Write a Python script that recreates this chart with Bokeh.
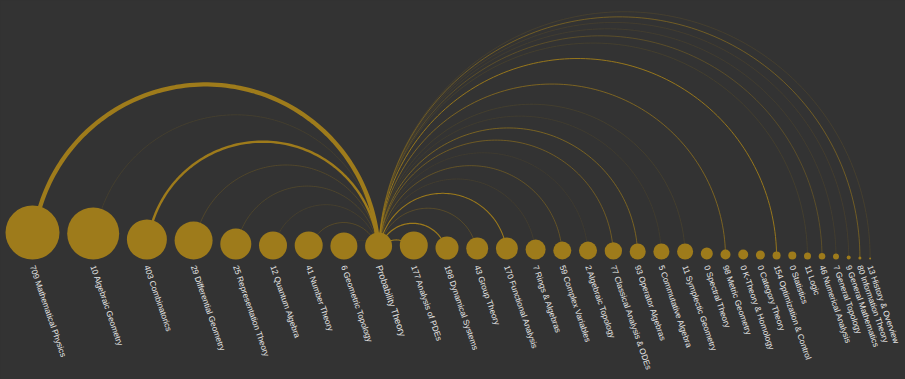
import numpy as np
from bokeh.plotting import figure
from bokeh.models import Range1d, ColumnDataSource
from bokeh.embed import file_html
from bokeh.resources import INLINE
from bokeh.core.properties import value

# ---------------- data ----------------
categories = [
    "Mathematical Physics", "Algebraic Geometry", "Combinatorics", "Differential Geometry",
    "Representation Theory", "Quantum Algebra", "Number Theory", "Geometric Topology",
    "Probability Theory", "Analysis of PDEs", "Dynamical Systems", "Group Theory",
    "Functional Analysis", "Rings & Algebras", "Complex Variables", "Algebraic Topology",
    "Classical Analysis & ODEs", "Operator Algebras", "Commutative Algebra", "Symplectic Geometry",
    "Spectral Theory", "Metric Geometry", "K-Theory & Homology", "Category Theory",
    "Optimization & Control", "Statistics", "Logic", "Numerical Analysis",
    "General Topology", "General Mathematics", "Information Theory", "History & Overview",
]
hub = "Probability Theory"
# co-occurrence counts with the hub (None for the hub itself)
link_weights = [709, 10, 403, 29, 25, 12, 41, 6, None, 177, 198, 43, 170, 7, 59, 2,
                77, 93, 5, 11, 0, 98, 0, 0, 154, 0, 11, 46, 7, 9, 80, 13]
# node totals (estimated, arbitrary units) -> node size
node_totals = [1080, 1040, 800, 760, 620, 560, 560, 540, 540, 560, 460, 440, 440, 400, 360, 360,
               346, 320, 320, 320, 240, 200, 200, 180, 160, 160, 140, 132, 120, 80, 60, 40]

# ---------------- layout ----------------
W, H = 905, 379
BG = "#333333"
GOLD = "#9e7b1b"

px_per_unit = 54.0 / 1080.0
gap = 7.7
left = 5.0
bottom = 259.0
arc_base = 257.0

diam = np.array(node_totals, dtype=float) * px_per_unit
xc = []
cur = left
for d in diam:
    xc.append(cur + d / 2.0)
    cur += d + gap
xc = np.array(xc)
yc = bottom - diam / 2.0

p = figure(width=W, height=H, x_range=Range1d(0, W), y_range=Range1d(H, 0),
           output_backend="svg", toolbar_location=None, min_border=0,
           x_axis_location=None, y_axis_location=None)
p.grid.visible = False
p.outline_line_color = None
p.background_fill_color = BG
p.border_fill_color = BG

hi = categories.index(hub)
max_w = max(w for w in link_weights if w is not None)

arcs = []
for i, w in enumerate(link_weights):
    if w is None or w <= 0:
        continue
    a, b = xc[hi], xc[i]
    mid = (a + b) / 2.0
    r = abs(b - a) / 2.0
    t = np.linspace(0, np.pi, 120)
    lw_raw = 4.3 * w / max_w
    arcs.append((w, list(mid + r * np.cos(t)), list(arc_base - r * np.sin(t)),
                 max(lw_raw, 0.8), min(1.0, 0.12 + lw_raw / 0.8)))
arcs.sort(key=lambda q: q[0])
arc_src = ColumnDataSource(dict(xs=[q[1] for q in arcs], ys=[q[2] for q in arcs],
                                lw=[q[3] for q in arcs], la=[q[4] for q in arcs]))
p.multi_line("xs", "ys", source=arc_src, line_color=GOLD, line_width="lw", line_alpha="la")

p.scatter(x=xc, y=yc, size=diam, marker="circle", fill_color=GOLD, line_color=None)

labels = [(f"{w}  {c}" if w is not None else c) for c, w in zip(categories, link_weights)]
ang = -np.deg2rad(71)
reg = [i for i in range(len(categories)) if i != hi]
p.text(x=xc[reg], y=[bottom + 6] * len(reg), text=[labels[i] for i in reg], angle=ang,
       text_align="left", text_baseline="middle", text_color="#e6e6e6",
       text_font=value("Liberation Sans"), text_font_size="8.3px")
p.text(x=[xc[hi]], y=[bottom + 6], text=[labels[hi]], angle=ang,
       text_align="left", text_baseline="middle", text_color="#e6e6e6",
       text_font=value("Liberation Sans"), text_font_size="9.3px")

html = file_html(p, INLINE)
html = html.replace("</head>", "<style>html,body{background:#333333;}</style></head>", 1)
open("out.html", "w").write(html)
